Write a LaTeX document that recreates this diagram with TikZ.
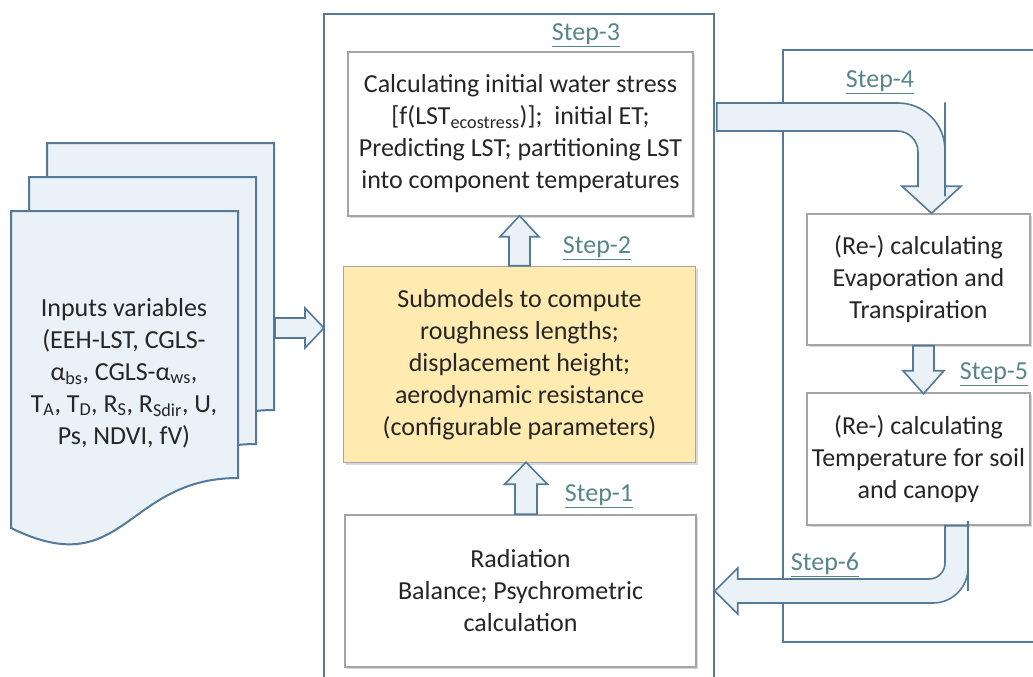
\documentclass[tikz,border=0pt]{standalone}
\usepackage{fontspec}
\setmainfont{Carlito}
\usepackage{xcolor}
\usepackage{tikz}
\usetikzlibrary{calc,shadows}
\definecolor{bordblue}{RGB}{84,122,152}
\definecolor{fillblue}{RGB}{234,242,248}
\definecolor{boxgray}{RGB}{165,165,165}
\definecolor{subyellow}{RGB}{255,234,176}
\definecolor{stepteal}{RGB}{86,134,136}
\definecolor{textdark}{RGB}{38,38,38}

\begin{document}
\begin{tikzpicture}[x=1pt, y=-1pt,
      txt/.style={font=\fontsize{26}{32}\selectfont, text=textdark, align=center},
      stagebox/.style={txt, draw=boxgray, line width=1.5pt, fill=white, inner xsep=0pt, inner ysep=0pt,
                       drop shadow={shadow xshift=2pt, shadow yshift=-2pt, opacity=0.3}},
      panel/.style={draw=bordblue, line width=2.2pt},
      docpage/.style={draw=bordblue, fill=fillblue, line width=2pt},
      blockarrow/.style={draw=bordblue, fill=fillblue, line width=1.6pt, line join=miter},
      steplabel/.style={font=\fontsize{26}{32}\selectfont, text=stepteal}
    ]
    \useasboundingbox (0,0) rectangle (1033,677);
    % panels
    \draw[panel] (324,677) -- (324,14) -- (714,14) -- (714,677);
    \draw[panel] (1033,50) -- (783,50) -- (783,642) -- (1033,642);
    % input documents
    \foreach \px/\py in {47/143, 29/177, 11/211} {
      \draw[docpage] (\px,\py) -- (\px+227,\py) -- (\px+227,\py+267)
        .. controls (\px+113.5,\py+267) and (\px+113.5,\py+373) .. (\px,\py+317) -- cycle;
    }
    \node[txt] (inputs) at (124,373) {Inputs variables\\(EEH-LST, CGLS-\\α\textsubscript{bs}, CGLS-α\textsubscript{ws},\\T\textsubscript{A}, T\textsubscript{D}, R\textsubscript{S}, R\textsubscript{Sdir}, U,\\Ps, NDVI, fV)};
    \coordinate (panelL) at (324,328);
    % stage boxes
    \node[stagebox, minimum width=345pt, minimum height=164pt] (step3) at (520.5,134) {
      Calculating initial water stress\\{[}f(LST\textsubscript{ecostress})];~ initial ET;\\Predicting LST; partitioning LST\\into component temperatures};
    \node[stagebox, fill=subyellow, minimum width=352pt, minimum height=196pt] (subm) at (519.5,364.5) {
      Submodels to compute\\roughness lengths;\\displacement height;\\aerodynamic resistance\\(configurable parameters)};
    \node[stagebox, minimum width=351pt, minimum height=152pt] (rad) at (520.5,591) {
      Radiation\\Balance; Psychrometric\\calculation};
    \node[stagebox, minimum width=223pt, minimum height=131pt] (evap) at (918.5,279.5) {
      (Re-) calculating\\Evaporation and\\Transpiration};
    \node[stagebox, minimum width=223pt, minimum height=132pt] (temp) at (918.5,459) {
      (Re-) calculating\\Temperature for soil\\and canopy};
    % block arrows
    \draw[blockarrow] ($(panelL)+(-49,-10)$) -- ++(30,0) -- ++(0,-10) -- (panelL) -- ++(-19,20) -- ++(0,-10) -- ++(-30,0) -- cycle;
    \draw[blockarrow] ($(rad.north)+(-5.5,0)$) -- ++(0,-30) -- ++(-10.5,0) -- ++(21.5,-22) -- ++(21.5,22) -- ++(-10.5,0) -- ++(0,30) -- cycle;
    \draw[blockarrow] ($(subm.north)+(-10.5,0)$) -- ++(0,-29) -- ++(-9,0) -- ++(19.5,-21) -- ++(19.5,21) -- ++(-9,0) -- ++(0,29) -- cycle;
    \draw[blockarrow] ($(evap.south)+(-5.5,0)$) -- ++(0,25) -- ++(-10,0) -- ++(20.5,23) -- ++(20.5,-23) -- ++(-10,0) -- ++(0,-25) -- cycle;
    % bent arrows
    \coordinate (s4a) at ($(step3.east)+(23,-17)$);
    \coordinate (s4b) at ($(evap.north)+(13,0)$);
    \draw[blockarrow] ($(s4a)+(0,-14)$) [rounded corners=47pt] -- ($(s4a -| s4b)+(13.5,-14)$)
      -- ($(s4b)+(13.5,-64)$) [sharp corners] -- ($(s4b)+(13.5,-27)$) -- ($(s4b)+(29.5,-27)$) -- (s4b)
      -- ($(s4b)+(-29.5,-27)$) -- ($(s4b)+(-13.5,-27)$) -- ($(s4b)+(-13.5,-54)$) [rounded corners=21pt]
      -- ($(s4a -| s4b)+(-13.5,14)$) -- ($(s4a)+(144,14)$) [sharp corners] -- ($(s4a)+(0,14)$) -- cycle;
    \coordinate (s6a) at ($(temp.south)+(38,0)$);
    \coordinate (s6b) at ($(rad.east)+(18,0)$);
    \draw[blockarrow] ($(s6a)+(-11.5,0)$) -- ($(s6a)+(-11.5,30)$) [rounded corners=16pt]
      -- ($(s6a |- s6b)+(-11.5,-12)$) -- ($(s6b)+(80,-12)$) [sharp corners] -- ($(s6b)+(23,-12)$)
      -- ($(s6b)+(23,-23)$) -- (s6b) -- ($(s6b)+(23,23)$) -- ($(s6b)+(23,12)$) -- ($(s6b)+(100,12)$) [rounded corners=35pt]
      -- ($(s6a |- s6b)+(11.5,12)$) -- ($(s6a)+(11.5,30)$) [sharp corners] -- ($(s6a)+(11.5,0)$) -- cycle;
    % step labels
    \node[steplabel] (lab3) at (586,35) {\underline{Step-3}};
    \node[steplabel] (lab2) at (597,248) {\underline{Step-2}};
    \node[steplabel] (lab1) at (599,496) {\underline{Step-1}};
    \node[steplabel] (lab4) at (880,82) {\underline{Step-4}};
    \node[steplabel] (lab5) at (994,374) {\underline{Step-5}};
    \node[steplabel] (lab6) at (825,565) {\underline{Step-6}};
  \end{tikzpicture}
\end{document}
